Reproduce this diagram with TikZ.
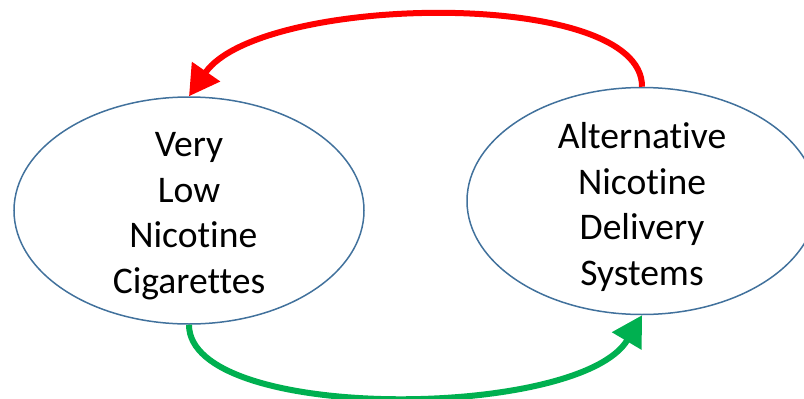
\documentclass[tikz,border=0pt]{standalone}
\usepackage{fontspec}
\setmainfont[Ligatures={NoCommon}]{Carlito}
\usetikzlibrary{shapes.geometric,arrows.meta}
\definecolor{ellblue}{HTML}{41719C}
\definecolor{offgreen}{HTML}{00B050}
\begin{document}
\begin{tikzpicture}[x=1pt,y=-1pt,
  oval/.style={ellipse, draw=ellblue, line width=1.5pt, minimum width=350pt, minimum height=227pt, inner sep=0pt},
  lbl/.style={align=center, font=\fontsize{37.6}{45.5}\selectfont, inner sep=0pt},
  flow/.style={line width=6pt, -{Triangle[length=30pt,width=33pt]}}]
\useasboundingbox (0,0) rectangle (804,399);
\node[oval] (vlnc) at (189,210.5) {};
\node[oval] (ands) at (642,201) {};
\node[lbl] (t1) at (189,216) {Very\\Low\\\hspace*{8.5pt}Nicotine\\Cigarettes};
\node[lbl] (t2) at (642,207) {Alternative\\Nicotine\\Delivery\\Systems};
\draw[flow, red] (ands.north) .. controls (643,-13) and (260,-6) .. (vlnc.north);
\draw[flow, offgreen] (vlnc.south) .. controls (189,423) and (580,420) .. (ands.south);
\end{tikzpicture}
\end{document}
